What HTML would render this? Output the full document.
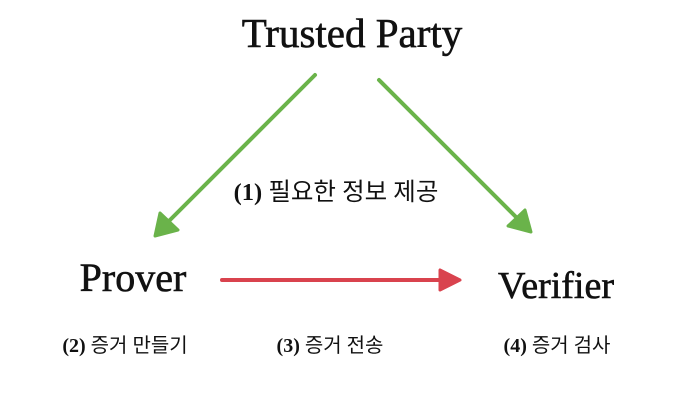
<!DOCTYPE html>
<html><head><meta charset="utf-8"><style>
body{margin:0;width:700px;height:415px;background:#fff;overflow:hidden}
svg text{font-family:"Liberation Serif","Noto Sans CJK KR",serif;fill:#111}
</style></head><body>
<svg width="700" height="415" xmlns="http://www.w3.org/2000/svg">
<text x="352" y="47" font-size="41" text-anchor="middle" stroke="#111" stroke-width="0.6">Trusted Party</text>
<text x="133" y="291" font-size="40" text-anchor="middle" stroke="#111" stroke-width="0.6">Prover</text>
<text x="556" y="298" font-size="38" text-anchor="middle" stroke="#111" stroke-width="0.6">Verifier</text>
<text x="336" y="200" font-size="24.5" text-anchor="middle"><tspan font-weight="bold">(1)</tspan> 필요한 정보 제공</text>
<text x="125" y="352" font-size="20" text-anchor="middle"><tspan font-weight="bold">(2)</tspan> 증거 만들기</text>
<text x="330" y="352" font-size="20" text-anchor="middle"><tspan font-weight="bold">(3)</tspan> 증거 전송</text>
<text x="557" y="352" font-size="20" text-anchor="middle"><tspan font-weight="bold">(4)</tspan> 증거 검사</text>
<g stroke="#6ab34a" stroke-width="4" stroke-linecap="round" fill="#6ab34a">
<line x1="315" y1="75" x2="168" y2="222"/>
<polygon points="155,236 160,213 178,230" stroke-width="3" stroke-linejoin="round"/>
<line x1="379" y1="80" x2="518" y2="219"/>
<polygon points="531,232 508,226 525,210" stroke-width="3" stroke-linejoin="round"/>
</g>
<g stroke="#d9434e" stroke-width="4" stroke-linecap="round" fill="#d9434e">
<line x1="222" y1="280" x2="445" y2="280"/>
<polygon points="460,280 440,270 440,290" stroke-width="3" stroke-linejoin="round"/>
</g>
</svg>
</body></html>
